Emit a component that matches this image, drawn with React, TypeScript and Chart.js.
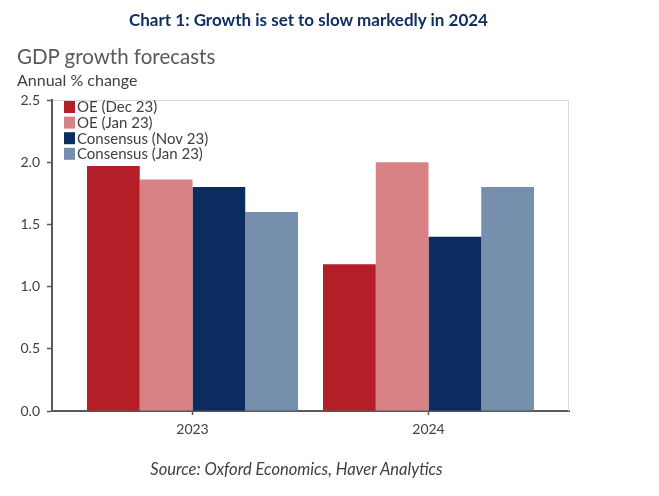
import React, { useEffect, useRef } from "react";
import { Chart, registerables } from "chart.js";

Chart.register(...registerables);

const categories = ["2023", "2024"];
const seriesLabels = ["OE (Dec 23)", "OE (Jan 23)", "Consensus (Nov 23)", "Consensus (Jan 23)"];
const oeDec23 = [1.97, 1.18];
const oeJan23 = [1.86, 2.0];
const consNov23 = [1.8, 1.4];
const consJan23 = [1.6, 1.8];
const seriesColors = ["#B31E27", "#D98285", "#0C2B5E", "#758FAD"];
const yTicks = [0, 0.5, 1.0, 1.5, 2.0, 2.5];

const FONT = "Lato, 'Open Sans', sans-serif";
const TEXT = "#404040";
const AXIS = "#595959";

const legendPlugin = {
  id: "insideLegend",
  afterDatasetsDraw(chart: any) {
    const { ctx, chartArea } = chart;
    ctx.save();
    ctx.font = `15px ${FONT}`;
    ctx.textBaseline = "middle";
    ctx.textAlign = "left";
    chart.data.datasets.forEach((ds: any, i: number) => {
      const y = chartArea.top + 1 + i * 15.6;
      ctx.fillStyle = ds.backgroundColor;
      ctx.fillRect(chartArea.left + 12, y, 11, 12);
      ctx.fillStyle = TEXT;
      ctx.fillText(ds.label, chartArea.left + 25, y + 6.5);
    });
    ctx.restore();
  },
};

const framePlugin = {
  id: "frame",
  beforeDatasetsDraw(chart: any) {
    const { ctx, chartArea } = chart;
    ctx.save();
    ctx.strokeStyle = "#D9D9D9";
    ctx.lineWidth = 1;
    ctx.beginPath();
    ctx.moveTo(chartArea.right - 0.5, chartArea.top);
    ctx.lineTo(chartArea.right - 0.5, chartArea.bottom);
    ctx.stroke();
    ctx.restore();
  },
};

export default function App() {
  const ref = useRef<HTMLCanvasElement>(null);

  useEffect(() => {
    document.body.style.margin = "0";
    const all = [oeDec23, oeJan23, consNov23, consJan23];
    const chart = new Chart(ref.current as HTMLCanvasElement, {
      type: "bar",
      data: {
        datasets: all.map((vals, s) => ({
          label: seriesLabels[s],
          data: vals.map((v, i) => ({ x: i, y: v })),
          backgroundColor: seriesColors[s],
          borderWidth: 0,
          categoryPercentage: 0.894,
          barPercentage: 1.0,
        })),
      },
      options: {
        responsive: false,
        animation: false,
        devicePixelRatio: 1,
        layout: { padding: { top: 100, right: 90, bottom: 55, left: 0 } },
        plugins: {
          legend: { display: false },
          tooltip: { enabled: false },
          title: { display: false },
        },
        scales: {
          x: {
            type: "linear",
            offset: false,
            bounds: "data",
            min: -0.5953,
            max: 1.5953,
            afterBuildTicks: (s: any) => {
              s.ticks = categories.map((_, i) => ({ value: i }));
            },
            afterFit: (s: any) => {
              s.height = 30;
            },
            ticks: {
              callback: (v: any) => categories[v as number] ?? "",
              font: { family: FONT, size: 14 },
              color: TEXT,
              padding: 6,
              maxRotation: 0,
            },
            grid: {
              offset: false,
              drawOnChartArea: false,
              drawTicks: true,
              tickLength: 4,
              tickColor: AXIS,
              tickWidth: 1.5,
            },
            border: { display: true, color: AXIS, width: 2 },
          },
          y: {
            min: 0,
            max: 2.5,
            afterBuildTicks: (s: any) => {
              s.ticks = yTicks.map((v) => ({ value: v }));
            },
            afterFit: (s: any) => {
              s.width = 52;
            },
            ticks: {
              callback: (v: any) => Number(v).toFixed(1),
              font: { family: FONT, size: 14 },
              color: TEXT,
              padding: 7,
            },
            grid: {
              drawOnChartArea: true,
              color: (c: any) => (c.tick && c.tick.value === 2.5 ? "#D9D9D9" : "rgba(0,0,0,0)"),
              lineWidth: 1,
              drawTicks: true,
              tickLength: 5,
              tickColor: AXIS,
              tickWidth: 1.5,
            },
            border: { display: true, color: AXIS, width: 2 },
          },
        },
      },
      plugins: [framePlugin, legendPlugin],
    });
    return () => chart.destroy();
  }, []);

  const abs: React.CSSProperties = { position: "absolute", whiteSpace: "nowrap", margin: 0 };

  return (
    <div style={{ position: "absolute", left: 0, top: 0, width: 659, height: 496, background: "#fff", fontFamily: FONT }}>
      <canvas ref={ref} width={659} height={496} style={{ position: "absolute", left: 0, top: 0 }} />
      <div style={{ ...abs, left: 0, width: 617, top: 11, textAlign: "center", fontSize: 17, lineHeight: "17px", fontWeight: 700, color: "#0F2D5F" }}>
        Chart 1: Growth is set to slow markedly in 2024
      </div>
      <div style={{ ...abs, left: 17, top: 46, fontSize: 20.5, lineHeight: "21px", color: "#595959" }}>GDP growth forecasts</div>
      <div style={{ ...abs, left: 17, top: 72, fontSize: 16, lineHeight: "16px", color: TEXT }}>Annual % change</div>
      <div style={{ ...abs, left: 0, width: 593, top: 461, textAlign: "center", fontSize: 16.5, lineHeight: "17px", fontStyle: "italic", color: TEXT }}>
        Source: Oxford Economics, Haver Analytics
      </div>
    </div>
  );
}
